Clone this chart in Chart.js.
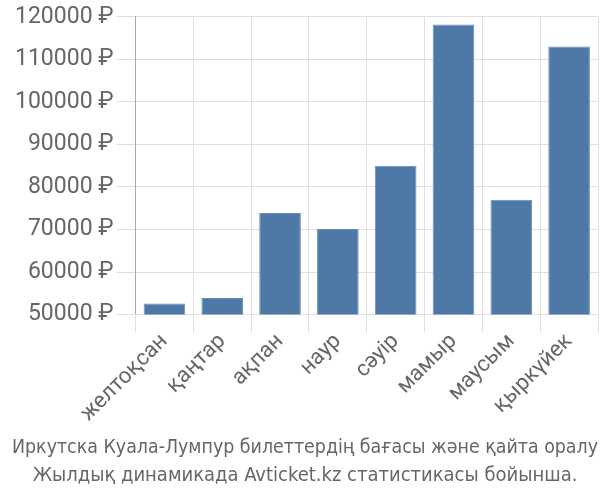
<!DOCTYPE html>
<html>
<head>
<meta charset="utf-8">
<script src="https://cdn.jsdelivr.net/npm/chart.js@4"></script>
<style>
  body { margin: 0; background: #fff; }
  #wrap { width: 600px; height: 500px; }
</style>
</head>
<body>
<div id="wrap"><canvas id="priceChart"></canvas></div>
<script>
const months = ['желтоқсан', 'қаңтар', 'ақпан', 'наур', 'сәуір', 'мамыр', 'маусым', 'қыркүйек'];
const prices = [52600, 53900, 73900, 70100, 85000, 118200, 77000, 113000];
const titleLines = [
    'Иркутска Куала-Лумпур билеттердің бағасы және қайта оралу',
    'Жылдық динамикада Avticket.kz статистикасы бойынша.'
];

const ctx = document.getElementById('priceChart');
new Chart(ctx, {
    type: 'bar',
    data: {
        labels: months,
        datasets: [{
            label: 'Баға',
            data: prices,
            backgroundColor: '#4e79a7',
            borderColor: '#6a8fb8',
            borderWidth: 1
        }]
    },
    options: {
        responsive: true,
        maintainAspectRatio: false,
        animation: false,
        layout: {
            padding: { top: 2, right: 2, left: 12, bottom: 0 }
        },
        scales: {
            y: {
                min: 50000,
                max: 120000,
                ticks: {
                    stepSize: 10000,
                    color: '#666',
                    font: { family: 'Roboto', size: 23 },
                    padding: 3,
                    callback: v => v + ' ₽'
                },
                grid: { color: '#e0e0e0', tickLength: 19 },
                border: { color: '#aaa' }
            },
            x: {
                ticks: {
                    maxRotation: 45,
                    minRotation: 45,
                    color: '#666',
                    font: { family: 'Roboto', size: 22 },
                    padding: -4
                },
                grid: { color: '#e0e0e0', tickLength: 18, offset: true },
                border: { color: '#e0e0e0' }
            }
        },
        plugins: {
            legend: { display: false },
            tooltip: { enabled: false },
            title: {
                display: true,
                position: 'bottom',
                text: titleLines,
                color: '#666',
                font: { family: 'DejaVu Sans Condensed', size: 20, weight: 'normal', lineHeight: 1.4 },
                padding: { top: 11, bottom: 10 }
            }
        }
    }
});
</script>
</body>
</html>
